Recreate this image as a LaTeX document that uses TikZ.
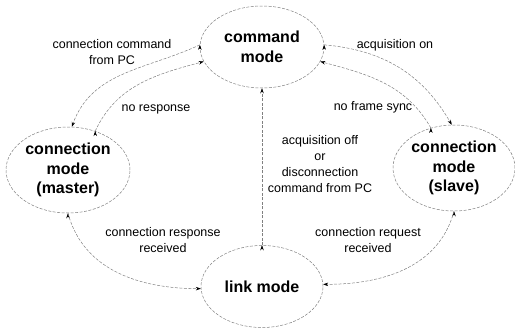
\documentclass[tikz,border=0pt]{standalone}
\usepackage{fontspec}
\setmainfont{Liberation Sans}
\usetikzlibrary{arrows.meta,shapes.geometric,positioning}

\begin{document}
\begin{tikzpicture}[
        x = 1pt, y = 1pt,
        > = {Stealth[length=5pt, width=3.5pt, black]}, % arrow head style
        node distance = 157pt, % distance between nodes
        line width = 0.5pt % line style
        ]

        \tikzset{mode/.style={
        ellipse,
        draw = black!50,
        dash pattern = on 3pt off 1.5pt,
        inner sep = 0pt,
        align = center,
        font = \fontsize{16}{19.5}\selectfont\bfseries
        }}
        \tikzset{trans/.style={
        ->,
        draw = black!50,
        dash pattern = on 3pt off 1.5pt
        }}
        \tikzset{lbl/.style={
        align = center,
        inner sep = 0pt,
        font = \fontsize{12.5}{16}\selectfont
        }}

        \useasboundingbox (0,0) rectangle (515,-330);

        \node[mode, minimum width=124pt, minimum height=82pt] (cmd) at (262,-47) {command\\mode};
        \node[mode, minimum width=122pt, minimum height=82pt] (link) [below=of cmd] {link mode};
        \node[mode, minimum width=124pt, minimum height=86pt] (master) at (68,-170) {connection\\mode\\(master)};
        \node[mode, minimum width=122pt, minimum height=86pt] (slave) at (454,-168) {connection\\mode\\(slave)};

        \node[lbl] (lblcmd) at (112,-52) {connection command\\from PC};
        \node[lbl] (lblnoresp) at (156,-109) {no response};
        \node[lbl] (lblacqon) at (395,-45) {acquisition on};
        \node[lbl] (lblsync) at (373,-107) {no frame sync};
        \node[lbl] (lbloff) at (320,-164) {acquisition off\\or\\disconnection\\command from PC};
        \node[lbl] (lblresp) at (163,-240) {connection response\\received};
        \node[lbl] (lblreq) at (368,-240) {connection request\\received};

        \path[trans] (cmd.178) edge[out=205, in=70] (master.85);
        \path[trans] (master.55) edge[out=65, in=195] (cmd.194);
        \path[trans] (cmd.2) edge[out=-5, in=120] (slave.93);
        \path[trans] (slave.120) edge[out=120, in=-15] (cmd.-14);
        \path[trans] (link.north) edge (cmd.south);
        \path[trans] (master.south) edge[out=-75, in=180] (link.182);
        \path[trans] (slave.south) edge[out=-105, in=0] (link.2);

      \end{tikzpicture}
\end{document}
